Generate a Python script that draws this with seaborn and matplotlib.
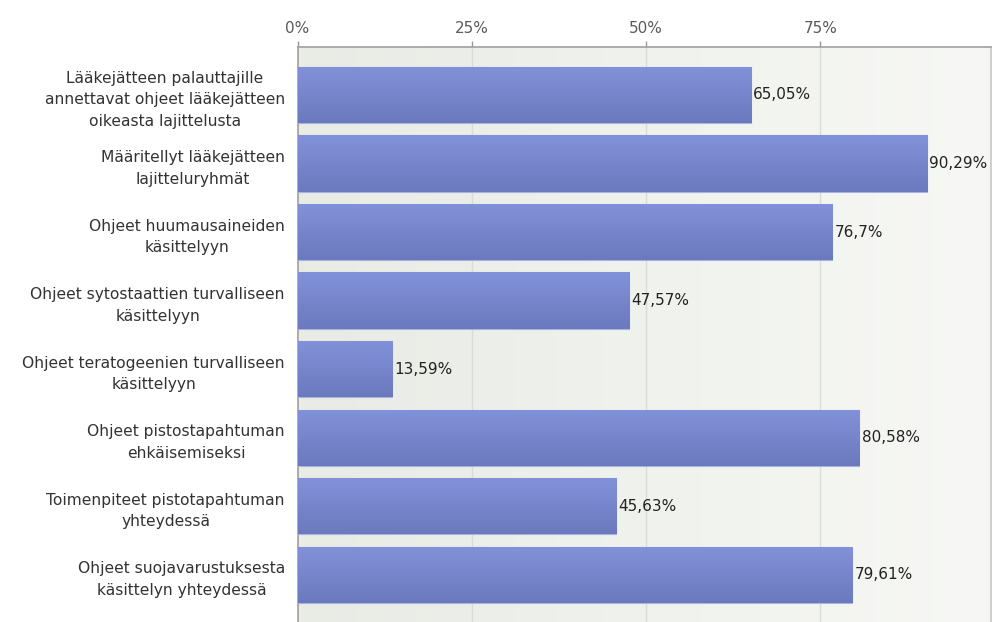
import numpy as np
import pandas as pd
import matplotlib
matplotlib.use("Agg")
import matplotlib.pyplot as plt
from matplotlib.colors import LinearSegmentedColormap
import seaborn as sns

categories = [
    "Lääkejätteen palauttajille\nannettavat ohjeet lääkejätteen\noikeasta lajittelusta",
    "Määritellyt lääkejätteen\nlajitteluryhmät",
    "Ohjeet huumausaineiden\nkäsittelyyn",
    "Ohjeet sytostaattien turvalliseen\nkäsittelyyn",
    "Ohjeet teratogeenien turvalliseen\nkäsittelyyn",
    "Ohjeet pistostapahtuman\nehkäisemiseksi",
    "Toimenpiteet pistotapahtuman\nyhteydessä",
    "Ohjeet suojavarustuksesta\nkäsittelyn yhteydessä",
]
values = [65.05, 90.29, 76.7, 47.57, 13.59, 80.58, 45.63, 79.61]
tick_values = [0, 25, 50, 75]
tick_labels = ["0%", "25%", "50%", "75%"]

df = pd.DataFrame({"category": categories, "value": values})

sns.set_theme(style="white")
plt.rcParams["font.family"] = ["DejaVu Sans"]

fig = plt.figure(figsize=(9.92, 6.22), dpi=100)
ax = fig.add_axes([297.5 / 992, 0.0, (991 - 297.5) / 992, 1 - 47 / 622])

sns.barplot(data=df, x="value", y="category", orient="h", width=0.82,
            color="#7888cc", edgecolor="#a9b3e3", linewidth=0.8, ax=ax,
            zorder=3)

xmax = 99.5
ax.set_xlim(0, xmax)
ax.set_ylim(len(categories) - 0.5 + 0.19, -0.5 - 0.2)

# soft horizontal gradient behind the plot
bg = LinearSegmentedColormap.from_list("bg", ["#e8ece5", "#f7f8f5"])
ax.imshow(np.linspace(0, 1, 256).reshape(1, -1), cmap=bg, aspect="auto",
          extent=[0, xmax, len(categories) - 0.5 + 0.19, -0.5 - 0.2],
          zorder=0)

# vertical gradient fill on each bar
bar_cmap = LinearSegmentedColormap.from_list("bar", ["#8292da", "#6b79bd"])
grad = np.linspace(0, 1, 128).reshape(-1, 1)
for patch in ax.patches:
    x0, y0 = patch.get_x(), patch.get_y()
    w, h = patch.get_width(), patch.get_height()
    im = ax.imshow(grad, cmap=bar_cmap, aspect="auto",
                   extent=[x0, x0 + w, y0 + h, y0], zorder=3.5)
    im.set_clip_path(patch)

for i, v in enumerate(values):
    ax.text(v + 0.35, i, f"{v:g}".replace(".", ",") + "%", va="center",
            ha="left", fontsize=11, color="#222222", zorder=5)

for t in tick_values[1:]:
    ax.axvline(t, color="#d8dcd5", linewidth=1, zorder=1)

ax.xaxis.tick_top()
ax.set_xticks(tick_values)
ax.set_xticklabels(tick_labels, fontsize=11, color="#5a5a5a")
ax.tick_params(axis="x", length=4, width=1, color="#999999", pad=4,
               top=True, bottom=False)
ax.tick_params(axis="y", length=0, pad=9)
for lbl in ax.get_yticklabels():
    lbl.set_multialignment("center")
    lbl.set_fontsize(11.2)
    lbl.set_color("#333333")
    lbl.set_linespacing(1.55)
ax.set_xlabel("")
ax.set_ylabel("")

for side in ["top", "left", "right"]:
    ax.spines[side].set_color("#a0a0a0")
    ax.spines[side].set_linewidth(1.2)
ax.spines["right"].set_color("#c8c8c8")
ax.spines["bottom"].set_visible(False)

fig.savefig("out.png", dpi=100)
